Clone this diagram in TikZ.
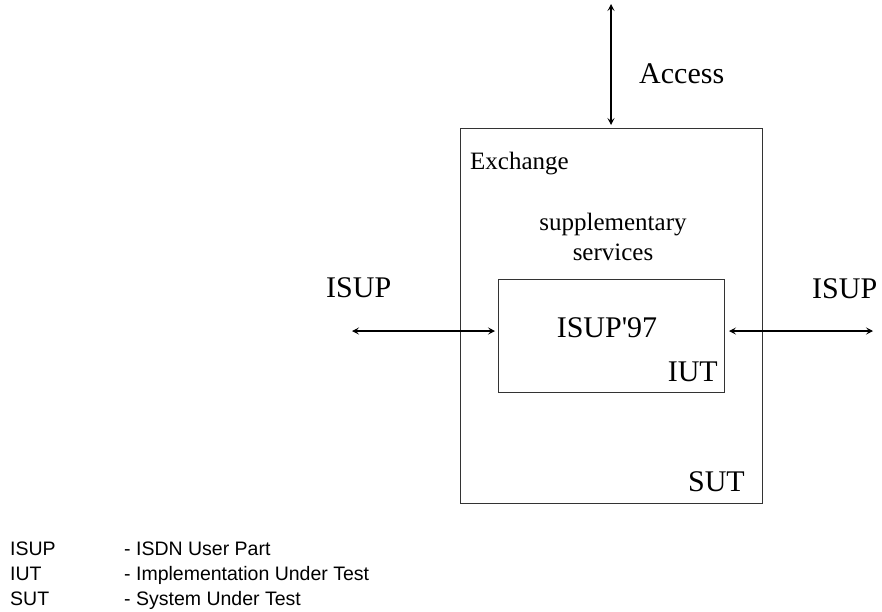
\documentclass[tikz,border=0pt]{standalone}
\usepackage{fontspec}
\setmainfont{Liberation Serif}
\newfontfamily\plainserif[Ligatures=TeXOff]{Liberation Serif}
\newfontfamily\legendfont{Liberation Sans}
\usetikzlibrary{arrows.meta}
\begin{document}
\begin{tikzpicture}[x=1pt,y=-1pt,
  boxline/.style={draw=black!80,line width=1.2pt},
  conn/.style={draw=black,line width=1.2pt,{Stealth[length=7pt,width=7pt,inset=3pt]}-{Stealth[length=7pt,width=7pt,inset=3pt]}},
  big/.style={font=\fontsize{30}{34}\selectfont,inner sep=0pt},
  mid/.style={font=\fontsize{25}{30}\selectfont,inner sep=0pt},
  legend/.style={font=\legendfont\fontsize{19.5}{16}\selectfont,inner sep=0pt,anchor=base west}]
\useasboundingbox (0,0) rectangle (882,611);
% boxes
\node[boxline,minimum width=302pt,minimum height=375pt,anchor=north west,inner sep=0pt] (sut) at (460,128) {};
\node[boxline,minimum width=226pt,minimum height=113pt,anchor=north west,inner sep=0pt] (iut) at (498,279) {};
% coordinates for free ends
\coordinate (acctop) at (611,4);
\coordinate (accbot) at (611,125);
\coordinate (lend) at (352,331);
\coordinate (lin) at (495,331);
\coordinate (rin) at (729,331);
\coordinate (rend) at (873,331);
\draw[conn,line width=1.8pt] (acctop) -- (accbot);
\draw[conn] (lend) -- (lin);
\draw[conn] (rin) -- (rend);
% labels
\node[big,anchor=base west] (access) at (639,83) {Access};
\node[mid,anchor=base west] (exch) at (470,169) {Exchange};
\node[mid,anchor=base] (supp) at (613,230) {supplementary};
\node[mid,anchor=base] (serv) at (613,260) {services};
\node[big,anchor=base] (isup97) at (607,337) {\plainserif ISUP'97};
\node[big,anchor=base east] (iutl) at (718,381) {IUT};
\node[big,anchor=base east] (sutl) at (745,491) {SUT};
\node[big,anchor=base west] (isupl) at (326,297) {ISUP};
\node[big,anchor=base west] (isupr) at (812,298) {ISUP};
% legend
\node[legend] (l1a) at (10,555) {ISUP};
\node[legend] (l1b) at (124,555) {- ISDN User Part};
\node[legend] (l2a) at (10,580) {IUT};
\node[legend] (l2b) at (124,580) {- Implementation Under Test};
\node[legend] (l3a) at (10,605) {SUT};
\node[legend] (l3b) at (124,605) {- System Under Test};
\end{tikzpicture}
\end{document}
